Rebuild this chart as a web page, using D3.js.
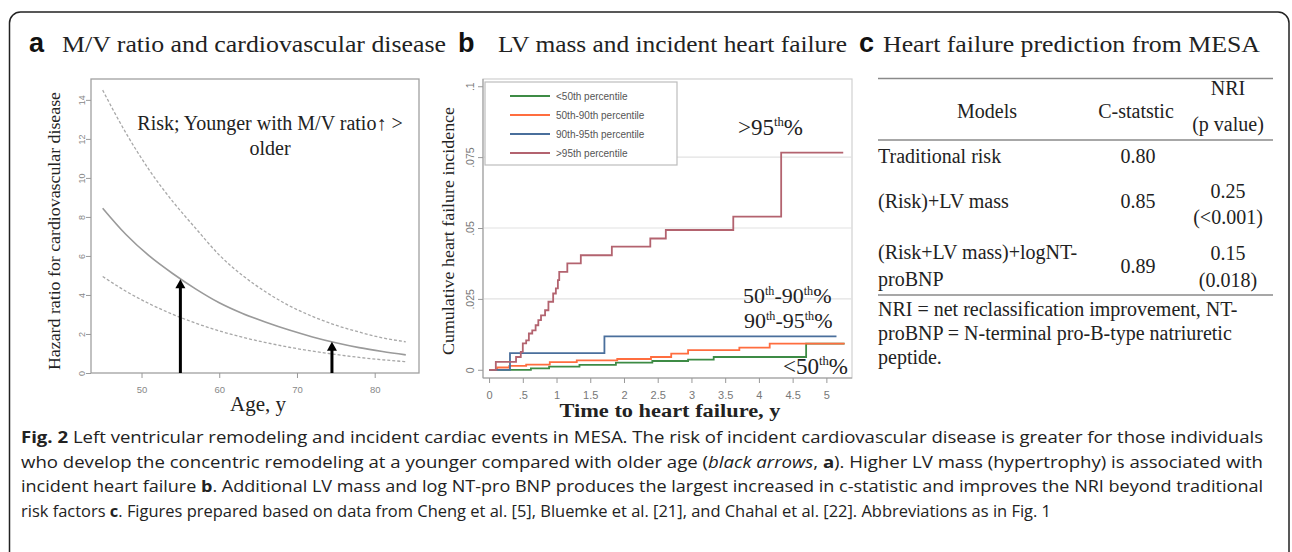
<!DOCTYPE html>
<html><head><meta charset="utf-8">
<script src="https://cdn.jsdelivr.net/npm/d3@7"></script>
<style>body{margin:0;background:#fff}svg{display:block}</style>
</head><body>
<svg id="fig" width="1292" height="552"></svg>
<script>
// ---------- Panel a data ----------
const ages     = [45, 48, 51, 54, 57, 60, 63, 66, 69, 72, 75, 78, 81, 84];
const hrMid    = [8.45, 7.1, 6.0, 5.1, 4.3, 3.6, 3.05, 2.6, 2.2, 1.85, 1.55, 1.3, 1.1, 0.93];
const hrUpper  = [14.5, 12.3, 10.4, 8.8, 7.4, 6.05, 5.0, 4.15, 3.45, 2.9, 2.45, 2.1, 1.8, 1.6];
const hrLower  = [4.95, 4.19, 3.55, 3.01, 2.55, 2.16, 1.83, 1.56, 1.32, 1.12, 0.95, 0.80, 0.68, 0.58];
const arrowAges = [55, 74.5];
const arrowTips = [4.8, 1.6];
const aXTicks = [50, 60, 70, 80];
const aYTicks = [0, 2, 4, 6, 8, 10, 12, 14];

// ---------- Panel b data ----------
const seriesNames = ["<50th percentile", "50th-90th percentile", "90th-95th percentile", ">95th percentile"];
const greenT  = [0, 0.62, 0.89, 1.34, 1.88, 2.42, 2.95, 3.33, 4.7, 5.27];
const greenV  = [0, 0.0005, 0.0011, 0.0017, 0.0025, 0.0031, 0.0036, 0.0045, 0.0092, 0.0092];
const orangeT = [0, 0.12, 0.3, 0.55, 0.9, 1.3, 1.9, 2.4, 2.7, 2.95, 3.71, 4.16, 5.27];
const orangeV = [0, 0.0008, 0.0014, 0.0018, 0.0027, 0.0033, 0.0038, 0.0045, 0.0057, 0.0069, 0.0078, 0.0092, 0.0092];
const blueT   = [0, 0.31, 1.71, 5.15];
const blueV   = [0, 0.0059, 0.0118, 0.0118];
const redT    = [0, 0.1, 0.4, 0.47, 0.5, 0.55, 0.59, 0.64, 0.69, 0.73, 0.77, 0.83, 0.88, 0.95, 0.99, 1.02, 1.04, 1.16, 1.36, 1.82, 2.39, 2.62, 3.62, 4.33, 5.25];
const redV    = [0, 0.0028, 0.0045, 0.0063, 0.0093, 0.0104, 0.0128, 0.0139, 0.0157, 0.0175, 0.0192, 0.021, 0.024, 0.0269, 0.0287, 0.0316, 0.0345, 0.0375, 0.0404, 0.0434, 0.0463, 0.0493, 0.054, 0.0766, 0.0766];
const bXTicks = [0, 0.5, 1, 1.5, 2, 2.5, 3, 3.5, 4, 4.5, 5];
const bXLabels = ["0", ".5", "1", "1.5", "2", "2.5", "3", "3.5", "4", "4.5", "5"];
const bYTicks = [0, 0.025, 0.05, 0.075, 0.1];
const bYLabels = ["0", ".025", ".05", ".075", ".1"];
const bGrid = [0.025, 0.05, 0.075];

// ---------- Panel c data ----------
const tableHeaders = ["Models", "C-statstic", "NRI", "(p value)"];
const models = [["Traditional risk"], ["(Risk)+LV mass"], ["(Risk+LV mass)+logNT-", "proBNP"]];
const cStats = ["0.80", "0.85", "0.89"];
const nriVals = [null, ["0.25", "(<0.001)"], ["0.15", "(0.018)"]];
const footnote = ["NRI = net reclassification improvement, NT-", "proBNP = N-terminal pro-B-type natriuretic", "peptide."];

const SERIF = "'Liberation Serif','Times New Roman','DejaVu Serif',serif";
const SANS = "'Liberation Sans',Arial,sans-serif";
const svg = d3.select("#fig");

// outer rounded frame
svg.append("rect").attr("x", 9.5).attr("y", 12).attr("width", 1279.5).attr("height", 620)
  .attr("rx", 11).attr("fill", "none").attr("stroke", "#222").attr("stroke-width", 1.5);

// panel titles
function panelTitle(letter, lx, text, tx, tw) {
  svg.append("text").attr("x", lx).attr("y", 52).attr("font-family", SANS).attr("font-weight", "bold")
    .attr("font-size", 27).attr("fill", "#111").text(letter);
  svg.append("text").attr("x", tx).attr("y", 52).attr("font-family", SERIF).attr("font-size", 24)
    .attr("fill", "#222").attr("textLength", tw).attr("lengthAdjust", "spacingAndGlyphs").text(text);
}
panelTitle("a", 29, "M/V ratio and cardiovascular disease", 62, 384);
panelTitle("b", 458, "LV mass and incident heart failure", 498, 349);
panelTitle("c", 859, "Heart failure prediction from MESA", 883, 377);

// ================= Panel a =================
const ax = d3.scaleLinear([43.5, 85.7], [91, 419]);
const ay = d3.scaleLinear([0, 15.07], [373, 79]);
const ga = svg.append("g");
ga.append("rect").attr("x", 91).attr("y", 79).attr("width", 328).attr("height", 294)
  .attr("fill", "none").attr("stroke", "#a0a0a0").attr("stroke-width", 1.3);

const aYAxis = ga.append("g").attr("transform", "translate(91,0)")
  .call(d3.axisLeft(ay).tickValues(aYTicks).tickSize(5).tickFormat(d3.format("d")));
aYAxis.select(".domain").remove();
aYAxis.selectAll("line").attr("stroke", "#999");
aYAxis.selectAll("text").attr("x", null).attr("dy", null)
  .attr("transform", "translate(-6,0) rotate(-90)").attr("text-anchor", "middle")
  .attr("font-family", SANS).attr("font-size", 9).attr("fill", "#888");

const aXAxis = ga.append("g").attr("transform", "translate(0,373)")
  .call(d3.axisBottom(ax).tickValues(aXTicks).tickSize(5));
aXAxis.select(".domain").remove();
aXAxis.selectAll("line").attr("stroke", "#999");
aXAxis.selectAll("text").attr("y", 20).attr("dy", null)
  .attr("font-family", SANS).attr("font-size", 9.5).attr("fill", "#888");

const lineA = d3.line().x((d, i) => ax(ages[i])).y(d => ay(d)).curve(d3.curveMonotoneX);
ga.append("path").attr("d", lineA(hrUpper)).attr("fill", "none").attr("stroke", "#a8a8a8")
  .attr("stroke-width", 1.3).attr("stroke-dasharray", "3,2");
ga.append("path").attr("d", lineA(hrLower)).attr("fill", "none").attr("stroke", "#a8a8a8")
  .attr("stroke-width", 1.3).attr("stroke-dasharray", "3,2");
ga.append("path").attr("d", lineA(hrMid)).attr("fill", "none").attr("stroke", "#9a9a9a")
  .attr("stroke-width", 1.6);

// arrows
arrowAges.forEach((a, i) => {
  const x = ax(a), y0 = ay(0), y1 = ay(arrowTips[i]);
  ga.append("line").attr("x1", x).attr("x2", x).attr("y1", y0).attr("y2", y1 + 7)
    .attr("stroke", "#000").attr("stroke-width", 3);
  ga.append("path").attr("d", `M${x - 5},${y1 + 9} L${x},${y1} L${x + 5},${y1 + 9} Z`).attr("fill", "#000");
});

// annotation
ga.append("text").attr("x", 270).attr("y", 130).attr("text-anchor", "middle")
  .attr("font-family", SERIF).attr("font-size", 20).attr("fill", "#222").text("Risk; Younger with M/V ratio\u2191 >");
ga.append("text").attr("x", 270).attr("y", 155).attr("text-anchor", "middle")
  .attr("font-family", SERIF).attr("font-size", 20).attr("fill", "#222").text("older");

// axis titles
ga.append("text").attr("x", 258).attr("y", 411).attr("text-anchor", "middle")
  .attr("font-family", SERIF).attr("font-size", 21).attr("fill", "#222").text("Age, y");
ga.append("text").attr("transform", "translate(60,231) rotate(-90)").attr("text-anchor", "middle")
  .attr("font-family", SERIF).attr("font-size", 17).attr("fill", "#222")
  .attr("textLength", 278).attr("lengthAdjust", "spacingAndGlyphs")
  .text("Hazard ratio for cardiovascular disease");

// ================= Panel b =================
const bx = d3.scaleLinear([-0.09, 5.38], [483, 852]);
const by = d3.scaleLinear([-0.0029, 0.1022], [378, 80]);
const gb = svg.append("g");
gb.append("rect").attr("x", 483).attr("y", 79).attr("width", 369).attr("height", 299)
  .attr("fill", "none").attr("stroke", "#d0d0d0").attr("stroke-width", 1.2);
gb.selectAll(".grid").data(bGrid).enter().append("line")
  .attr("x1", 483).attr("x2", 852).attr("y1", d => by(d)).attr("y2", d => by(d))
  .attr("stroke", "#e2e2e2").attr("stroke-width", 1.2);

const bYAxis = gb.append("g").attr("transform", "translate(483,0)")
  .call(d3.axisLeft(by).tickValues(bYTicks).tickSize(5).tickFormat((d, i) => bYLabels[i]));
bYAxis.select(".domain").attr("d", "M0,79V378").attr("stroke", "#999");
bYAxis.selectAll("line").attr("stroke", "#999");
bYAxis.selectAll("text").attr("x", null).attr("dy", null)
  .attr("transform", "translate(-9,0) rotate(-90)").attr("text-anchor", "middle")
  .attr("font-family", SANS).attr("font-size", 10.5).attr("fill", "#777");

const bXAxis = gb.append("g").attr("transform", "translate(0,378)")
  .call(d3.axisBottom(bx).tickValues(bXTicks).tickSize(5).tickFormat((d, i) => bXLabels[i]));
bXAxis.select(".domain").attr("d", "M483,0H852").attr("stroke", "#999");
bXAxis.selectAll("line").attr("stroke", "#999");
bXAxis.selectAll("text").attr("y", 21).attr("dy", null)
  .attr("font-family", SANS).attr("font-size", 11).attr("fill", "#777");

const stepLine = d3.line().x(d => bx(d[0])).y(d => by(d[1])).curve(d3.curveStepAfter);
const series = [
  {T: greenT, V: greenV, color: "#3d8b45"},
  {T: orangeT, V: orangeV, color: "#ff6d3f"},
  {T: blueT, V: blueV, color: "#4a6f9c"},
  {T: redT, V: redV, color: "#b3636f"}
];
series.forEach(s => {
  gb.append("path").attr("d", stepLine(s.T.map((t, i) => [t, s.V[i]])))
    .attr("fill", "none").attr("stroke", s.color).attr("stroke-width", 1.8);
});

// legend
const lg = gb.append("g");
lg.append("rect").attr("x", 485).attr("y", 82).attr("width", 192).attr("height", 83)
  .attr("fill", "#fff").attr("stroke", "#bdbdbd").attr("stroke-width", 1.2);
seriesNames.forEach((n, i) => {
  const yy = 96 + i * 19;
  lg.append("line").attr("x1", 510).attr("x2", 550).attr("y1", yy).attr("y2", yy)
    .attr("stroke", series[i].color).attr("stroke-width", 1.8);
  lg.append("text").attr("x", 556).attr("y", yy + 3.5).attr("font-family", SANS)
    .attr("font-size", 10).attr("fill", "#555").text(n);
});

// annotations with superscripts
function supLabel(x, y, parts, size) {
  const t = gb.append("text").attr("x", x).attr("y", y).attr("font-family", SERIF)
    .attr("font-size", size).attr("fill", "#222");
  let raised = false;
  parts.forEach(p => {
    const sp = t.append("tspan").text(p.s);
    if (p.sup) {
      sp.attr("font-size", size * 0.55).attr("dy", -size * 0.38);
      raised = true;
    } else if (raised) {
      sp.attr("dy", size * 0.38);
      raised = false;
    }
  });
}
supLabel(738, 135, [{s: ">95"}, {s: "th", sup: true}, {s: "%"}], 23);
supLabel(743, 303, [{s: "50"}, {s: "th", sup: true}, {s: "-90"}, {s: "th", sup: true}, {s: "%"}], 22);
supLabel(744, 328, [{s: "90"}, {s: "th", sup: true}, {s: "-95"}, {s: "th", sup: true}, {s: "%"}], 22);
supLabel(783, 374, [{s: "<50"}, {s: "th", sup: true}, {s: "%"}], 23);

gb.append("text").attr("x", 670).attr("y", 417).attr("text-anchor", "middle")
  .attr("font-family", SERIF).attr("font-weight", "bold").attr("font-size", 18).attr("fill", "#222")
  .attr("textLength", 221).attr("lengthAdjust", "spacingAndGlyphs").text("Time to heart failure, y");
gb.append("text").attr("transform", "translate(454,231) rotate(-90)").attr("text-anchor", "middle")
  .attr("font-family", SERIF).attr("font-size", 17).attr("fill", "#222")
  .attr("textLength", 248).attr("lengthAdjust", "spacingAndGlyphs").text("Cumulative heart failure incidence");

// ================= Panel c =================
const gc = svg.append("g").attr("font-family", SERIF).attr("font-size", 20).attr("fill", "#222");
const ruleYs = [78.5, 140, 295];
gc.selectAll(".rule").data(ruleYs).enter().append("line")
  .attr("x1", 878).attr("x2", 1273).attr("y1", d => d).attr("y2", d => d)
  .attr("stroke", "#8a8a8a").attr("stroke-width", 1.5);
const colModel = 987, colC = 1136, colN = 1228;
gc.append("text").attr("x", colModel).attr("y", 118).attr("text-anchor", "middle").text(tableHeaders[0]);
gc.append("text").attr("x", colC).attr("y", 118).attr("text-anchor", "middle").text(tableHeaders[1]);
gc.append("text").attr("x", colN).attr("y", 95).attr("text-anchor", "middle").text(tableHeaders[2]);
gc.append("text").attr("x", colN).attr("y", 131).attr("text-anchor", "middle").text(tableHeaders[3]);

const modelYs = [[163], [208], [259, 286]];
const cYs = [163, 208, 273];
const nYs = [null, [198, 224], [260, 287]];
models.forEach((m, i) => {
  m.forEach((line, j) => gc.append("text").attr("x", 878).attr("y", modelYs[i][j]).text(line));
  gc.append("text").attr("x", colC + 2).attr("y", cYs[i]).attr("text-anchor", "middle").text(cStats[i]);
  if (nriVals[i]) nriVals[i].forEach((v, j) =>
    gc.append("text").attr("x", colN).attr("y", nYs[i][j]).attr("text-anchor", "middle").text(v));
});
const footYs = [316, 340, 364];
footnote.forEach((f, i) => gc.append("text").attr("x", 878).attr("y", footYs[i]).text(f));

// ================= Caption =================
const capLines = [
  [{s: "Fig. 2", b: 1}, {s: " Left ventricular remodeling and incident cardiac events in MESA. The risk of incident cardiovascular disease is greater for those individuals"}],
  [{s: "who develop the concentric remodeling at a younger compared with older age ("}, {s: "black arrows", i: 1}, {s: ", "}, {s: "a", b: 1}, {s: "). Higher LV mass (hypertrophy) is associated with"}],
  [{s: "incident heart failure "}, {s: "b", b: 1}, {s: ". Additional LV mass and log NT-pro BNP produces the largest increased in c-statistic and improves the NRI beyond traditional"}],
  [{s: "risk factors "}, {s: "c", b: 1}, {s: ". Figures prepared based on data from Cheng et al. [5], Bluemke et al. [21], and Chahal et al. [22]. Abbreviations as in Fig. 1"}]
];
const capWidths = [1242, 1242, 1242, 1030];
const capYs = [443, 468, 492, 517];
capLines.forEach((ln, i) => {
  const t = svg.append("text").attr("x", 21).attr("y", capYs[i])
    .attr("font-family", "'Open Sans','Noto Sans',sans-serif")
    .attr("font-size", 16).attr("fill", "#222")
    .attr("textLength", capWidths[i]).attr("lengthAdjust", "spacingAndGlyphs");
  ln.forEach(p => {
    const sp = t.append("tspan").text(p.s);
    if (p.b) sp.attr("font-weight", "bold");
    if (p.i) sp.attr("font-style", "italic");
  });
});
</script>
</body></html>
